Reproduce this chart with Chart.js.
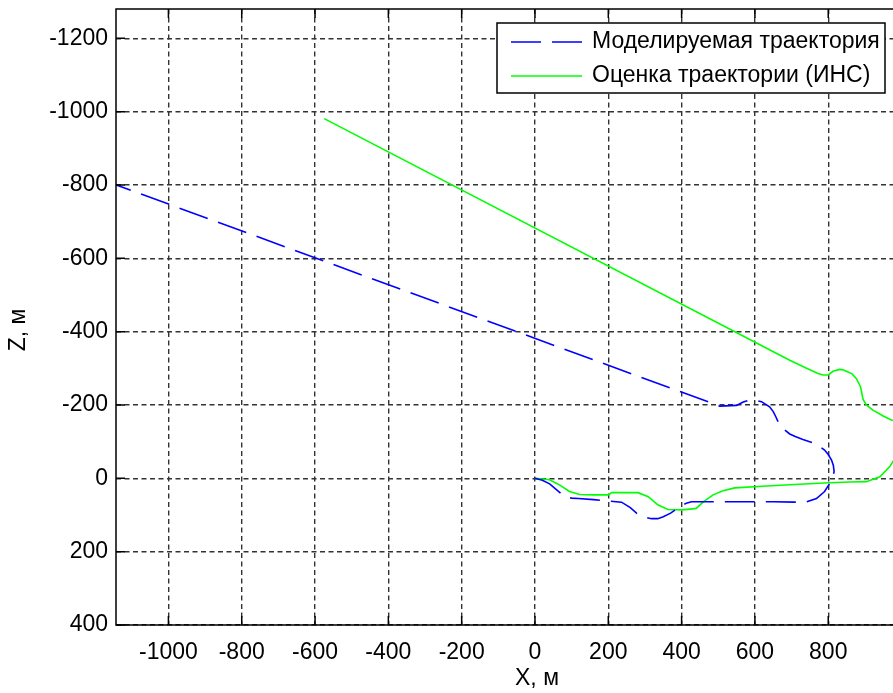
<!DOCTYPE html>
<html>
<head>
<meta charset="utf-8">
<script src="https://cdn.jsdelivr.net/npm/chart.js@4"></script>
<style>
  html, body { margin: 0; padding: 0; background: #fff; overflow: hidden; }
  canvas { display: block; }
</style>
</head>
<body>
<canvas id="traj" width="960" height="693"></canvas>
<script>
// series names (legend)
const seriesNames = ["Моделируемая траектория", "Оценка траектории (ИНС)"];

// simulated trajectory, X and Z in metres
const modelX = [0, 20, 40, 60, 81, 100, 118, 160, 200, 236, 260, 277, 300, 318, 335, 350, 370, 395, 415, 427,
  470, 550, 650, 708, 741, 768, 790, 804, 812, 816, 814, 809, 800, 790, 775, 763, 731, 710, 695, 680,
  672, 663, 657, 650, 640, 618, 600, 580, 568, 550, 504, -1150];
const modelZ = [0, 5, 15, 32, 50, 54, 55, 58, 62, 65, 80, 95, 106, 110, 110, 105, 95, 77, 67, 64,
  64, 64, 64, 65, 64, 55, 36, 14, -5, -18, -35, -50, -65, -77, -88, -95, -106, -114, -121, -133,
  -141, -155, -168, -182, -195, -209, -213, -212, -208, -199, -197, -803];

// INS estimate
const insX = [0, 40, 67, 94, 122, 160, 200, 209, 250, 281, 309, 336, 363, 400, 422, 440, 459, 486, 513, 545,
  632, 722, 804, 860, 904, 941, 968, 985, 1005, 1015, 1005, 990, 972, 950, 922, 904, 895, 888, 877, 865,
  854, 840, 831, 813, 800, 786, 772, 741, 695, -575];
const insZ = [0, 4, 18, 36, 44, 45, 45, 39, 39, 39, 50, 73, 85, 86, 84, 82, 64, 45, 34, 26,
  21, 16, 12, 10, 9, -4, -32, -60, -90, -120, -145, -155, -159, -170, -186, -200, -215, -250, -272, -285,
  -290, -296, -297, -292, -282, -282, -286, -300, -322, -981];

const xTicks = [-1000, -800, -600, -400, -200, 0, 200, 400, 600, 800];
const yTicks = [-1200, -1000, -800, -600, -400, -200, 0, 200, 400];
const xTitle = 'X, м';
const yTitle = 'Z, м';

const FONT = '"Liberation Sans", Arial, sans-serif';
const FSIZE = 23;

function toPoints(xs, zs) {
  return xs.map((x, i) => ({ x: x, y: zs[i] }));
}

// frame, inner tick marks, y label and legend box, matlab style
const matlabFrame = {
  id: 'matlabFrame',
  afterDraw(chart) {
    const { ctx, chartArea: a, scales } = chart;
    const x = scales.x, y = scales.y;
    ctx.save();
    ctx.setLineDash([]);
    ctx.strokeStyle = '#000';
    ctx.lineWidth = 1.5;
    ctx.strokeRect(a.left, a.top, a.right - a.left, a.bottom - a.top);
    ctx.beginPath();
    xTicks.forEach(v => {
      const px = x.getPixelForValue(v);
      ctx.moveTo(px, a.bottom); ctx.lineTo(px, a.bottom - 9);
      ctx.moveTo(px, a.top); ctx.lineTo(px, a.top + 9);
    });
    yTicks.forEach(v => {
      const py = y.getPixelForValue(v);
      ctx.moveTo(a.left, py); ctx.lineTo(a.left + 9, py);
      ctx.moveTo(a.right, py); ctx.lineTo(a.right - 9, py);
    });
    ctx.stroke();

    // y axis label, sits a bit below the axis centre like the original
    ctx.font = FSIZE + 'px ' + FONT;
    ctx.fillStyle = '#000';
    ctx.textAlign = 'center';
    ctx.textBaseline = 'middle';
    ctx.save();
    ctx.translate(19, 330);
    ctx.rotate(-Math.PI / 2);
    ctx.fillText(yTitle, 0, 0);
    ctx.restore();

    // legend
    const lx = 497, ly = 23, lw = 388, lh = 70;
    ctx.fillStyle = '#fff';
    ctx.fillRect(lx, ly, lw, lh);
    ctx.strokeRect(lx, ly, lw, lh);
    ctx.textAlign = 'left';
    chart.data.datasets.forEach((ds, i) => {
      const rowY = ly + 19 + i * 34;
      ctx.beginPath();
      ctx.strokeStyle = ds.borderColor;
      ctx.lineWidth = 1.6;
      ctx.setLineDash(ds.borderDash || []);
      ctx.moveTo(lx + 14, rowY);
      ctx.lineTo(lx + 85, rowY);
      ctx.stroke();
      ctx.setLineDash([]);
      ctx.fillStyle = '#000';
      ctx.fillText(ds.label, lx + 95, rowY);
    });
    ctx.restore();
  }
};

new Chart(document.getElementById('traj'), {
  type: 'scatter',
  data: {
    datasets: [
      {
        label: seriesNames[0],
        data: toPoints(modelX, modelZ),
        showLine: true,
        borderColor: '#0000ff',
        borderWidth: 1.6,
        borderDash: [30, 11],
        pointRadius: 0,
        tension: 0,
        clip: 0
      },
      {
        label: seriesNames[1],
        data: toPoints(insX, insZ),
        showLine: true,
        borderColor: '#00ff00',
        borderWidth: 1.6,
        pointRadius: 0,
        tension: 0,
        clip: 0
      }
    ]
  },
  options: {
    responsive: false,
    animation: false,
    devicePixelRatio: 1,
    layout: { padding: { top: 9, right: 2, left: 0, bottom: 0 } },
    plugins: {
      legend: { display: false },
      tooltip: { enabled: false }
    },
    scales: {
      x: {
        type: 'linear',
        min: -1143,
        max: 1154,
        afterBuildTicks: s => { s.ticks = xTicks.map(v => ({ value: v })); },
        afterFit: s => { s.height = 68; s.paddingLeft = 0; s.paddingRight = 0; },
        grid: { color: '#333', lineWidth: 1.4, drawTicks: false },
        border: { display: false, dash: [5, 3.5] },
        ticks: {
          autoSkip: false, maxRotation: 0, padding: 14, color: '#000',
          font: { family: FONT, size: FSIZE },
          callback: v => String(v)
        },
        title: {
          display: true, text: xTitle, color: '#000',
          font: { family: FONT, size: FSIZE }, padding: { top: 0, bottom: 1 }
        }
      },
      y: {
        type: 'linear',
        reverse: true,
        min: -1280,
        max: 400,
        afterBuildTicks: s => { s.ticks = yTicks.map(v => ({ value: v })); },
        afterFit: s => { s.width = 116; s.paddingTop = 0; s.paddingBottom = 0; },
        grid: { color: '#333', lineWidth: 1.4, drawTicks: false },
        border: { display: false, dash: [5, 3.5] },
        ticks: {
          autoSkip: false, padding: 8, color: '#000',
          font: { family: FONT, size: FSIZE },
          callback: v => String(v)
        }
      }
    }
  },
  plugins: [matlabFrame]
});
</script>
</body>
</html>
